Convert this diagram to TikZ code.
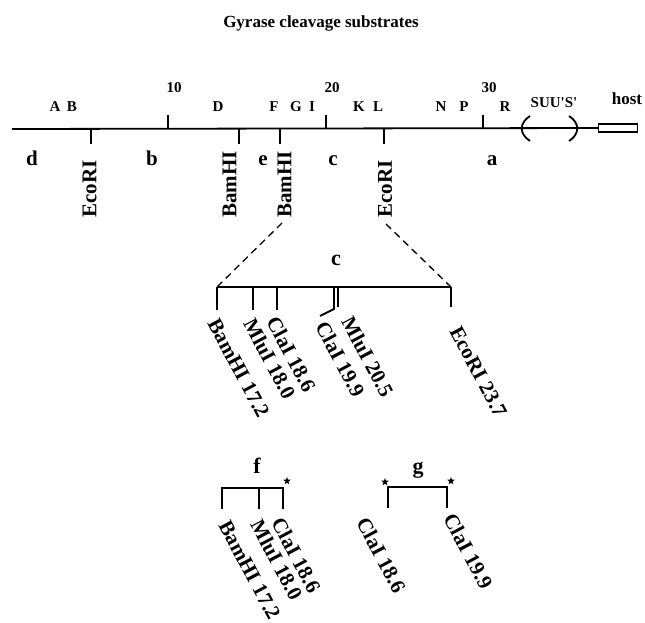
\documentclass[tikz,border=0pt]{standalone}
\usepackage{fontspec}
\setmainfont{Liberation Serif}
\usetikzlibrary{shapes.geometric,calc}
\tikzstyle{mapline} = [line width=1.8pt]
\tikzstyle{upper} = [font=\fontsize{15}{18}\selectfont\bfseries, anchor=base, inner sep=0pt]
\tikzstyle{lower} = [font=\fontsize{21}{24}\selectfont\bfseries, anchor=base, inner sep=0pt]
\tikzstyle{frag} = [font=\fontsize{22}{26}\selectfont\bfseries, anchor=base, inner sep=0pt]
\tikzstyle{enzyme} = [font=\fontsize{21}{24}\selectfont\bfseries, rotate=90, anchor=west, inner sep=0pt]
\tikzstyle{site} = [font=\fontsize{21}{24}\selectfont\bfseries, rotate=-62, anchor=west, inner sep=0pt]
\tikzstyle{endstar} = [star, star points=5, star point ratio=2.4, fill, inner sep=0pt, minimum size=8pt]
\tikzstyle{zoomline} = [line width=1.3pt, dash pattern=on 7pt off 5pt]

\begin{document}
\begin{tikzpicture}[x=1pt, y=-1pt]
\useasboundingbox (0,0) rectangle (645,623);

% Title
\node[font=\fontsize{17}{20}\selectfont\bfseries, anchor=base] (title) at (321,28) {Gyrase cleavage substrates};

% Main map line with host box
\coordinate (mapstart) at (12,129);
\node[draw, line width=1.3pt, minimum width=39pt, minimum height=8pt, inner sep=0pt] (host) at (618,128) {};
\draw[mapline] (mapstart) -- (host.west);
\node[upper, font=\fontsize{17}{20}\selectfont\bfseries] (hostlab) at (627,105) {host};

% Scale ticks
\foreach \x/\n in {168/10, 326/20, 483/30} {
  \coordinate (k\n) at (\x,129);
  \draw[mapline] (k\n) -- ++(0,-14);
  \node[upper] (num\n) at (\x+6,93) {\n};
}

% Letters above the map
\foreach \x/\t in {55/A, 72/B, 218/D, 274/F, 296/G, 312/I, 359/K, 378/L, 441/N, 464/P, 505/R}
  \node[upper] (up\t) at (\x,112) {\t};
\node[upper] (suu) at (554,108) {SUU\textquotesingle S\textquotesingle};

% Brackets round SUU'S'
\draw[mapline] (530,116) .. controls (519,123) and (519,134) .. (530,141);
\draw[mapline] (569,116) .. controls (580,123) and (580,134) .. (569,141);

% Restriction sites below the map
\foreach \x/\n in {91/s1, 239/s2, 280/s3, 384/s4} {
  \coordinate (\n) at (\x,129);
  \draw[mapline] (\n) -- ++(0,15);
}
\node[enzyme] (ecoA) at (89.5,218) {EcoRI};
\node[enzyme] (bamA) at (229.5,218) {BamHI};
\node[enzyme] (bamB) at (284.5,218) {BamHI};
\node[enzyme] (ecoB) at (385,218) {EcoRI};

% Fragment letters
\foreach \x/\t in {32/d, 152/b, 263/e, 333/c, 492/a}
  \node[lower] (fr\t) at (\x,165) {\t};

% Fragment c enlarged
\coordinate (dashL) at (282,223);
\coordinate (dashR) at (386,224);
\coordinate (cL) at (217,287);
\coordinate (cR) at (451,287);
\draw[zoomline] (dashL) -- (cL);
\draw[zoomline] (dashR) -- (cR);
\node[frag] (fragc) at (336,265) {c};
\draw[mapline] (cL) -- (cR);
\foreach \x/\y in {217/310, 253/310, 277/310, 338/307, 451/307}
  \draw[mapline] (\x,287) -- (\x,\y);
\draw[mapline] (334,287) -- (334,309) -- (320,316);
\node[site] (c1) at (213,320) {BamHI 17.2};
\node[site] (c2) at (249,320) {MluI 18.0};
\node[site] (c3) at (272,318) {ClaI 18.6};
\node[site] (c4) at (321,323) {ClaI 19.9};
\node[site] (c5) at (347,318) {MluI 20.5};
\node[site] (c6) at (455,328) {EcoRI 23.7};

% Fragment f
\node[frag] (fragf) at (257,473) {f};
\draw[mapline] (222,509) -- (222,488) -- (283,488) -- (283,509);
\draw[mapline] (259,488) -- (259,509);
\node[endstar] (fstar) at (287,481) {};
\node[site] (f1) at (224,522) {BamHI 17.2};
\node[site] (f2) at (256,521) {MluI 18.0};
\node[site] (f3) at (277,519) {ClaI 18.6};

% Fragment g
\node[frag] (fragg) at (418,473) {g};
\draw[mapline] (388,508) -- (388,487) -- (447,487) -- (447,508);
\node[endstar] (gstarL) at (385,482) {};
\node[endstar] (gstarR) at (451,481) {};
\node[site] (g1) at (362,519) {ClaI 18.6};
\node[site] (g2) at (449,515) {ClaI 19.9};

\end{tikzpicture}
\end{document}
